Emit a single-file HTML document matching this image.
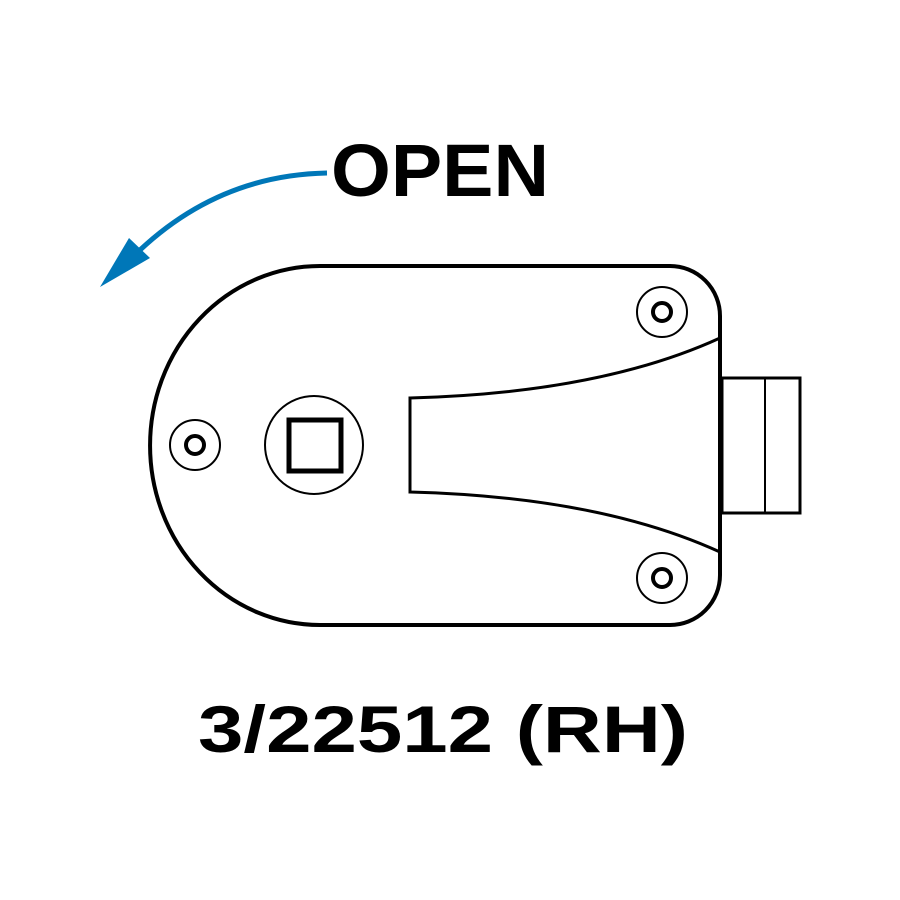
<!DOCTYPE html>
<html><head><style>
html,body{margin:0;padding:0;background:#fff;}
svg{display:block;}
</style></head><body>
<svg width="900" height="900" viewBox="0 0 900 900" xmlns="http://www.w3.org/2000/svg">
<rect width="900" height="900" fill="#fff"/>
<path d="M327,173 Q220,175 140,250" fill="none" stroke="#0077b8" stroke-width="5"/>
<polygon points="100,287 129,238 150,258" fill="#0077b8"/>
<text x="331" y="196" textLength="218" lengthAdjust="spacingAndGlyphs" font-family="Liberation Sans, sans-serif" font-weight="bold" font-size="74" fill="#000">OPEN</text>
<path d="M320,266 L670,266 A50,50 0 0 1 720,316 L720,575 A50,50 0 0 1 670,625 L320,625 A170,179.5 0 0 1 320,266 Z" fill="none" stroke="#000" stroke-width="4"/>
<rect x="722" y="378" width="78" height="135" fill="none" stroke="#000" stroke-width="3"/>
<line x1="765" y1="378" x2="765" y2="513" stroke="#000" stroke-width="2"/>
<path d="M720,338 Q600,393 410,398 L410,492 Q600,497 720,552" fill="none" stroke="#000" stroke-width="3"/>
<g fill="none" stroke="#000">
<circle cx="662" cy="312" r="25" stroke-width="2"/><circle cx="662" cy="312" r="9" stroke-width="4"/>
<circle cx="195" cy="445" r="25" stroke-width="2"/><circle cx="195" cy="445" r="9" stroke-width="4"/>
<circle cx="662" cy="578" r="25" stroke-width="2"/><circle cx="662" cy="578" r="9" stroke-width="4"/>
<circle cx="314" cy="445" r="49" stroke-width="2"/>
</g>
<rect x="289" y="420" width="52" height="51" fill="none" stroke="#000" stroke-width="5"/>
<text x="198" y="752" textLength="490" lengthAdjust="spacingAndGlyphs" font-family="Liberation Sans, sans-serif" font-weight="bold" font-size="66" fill="#000">3/22512 (RH)</text>
</svg>
</body></html>
